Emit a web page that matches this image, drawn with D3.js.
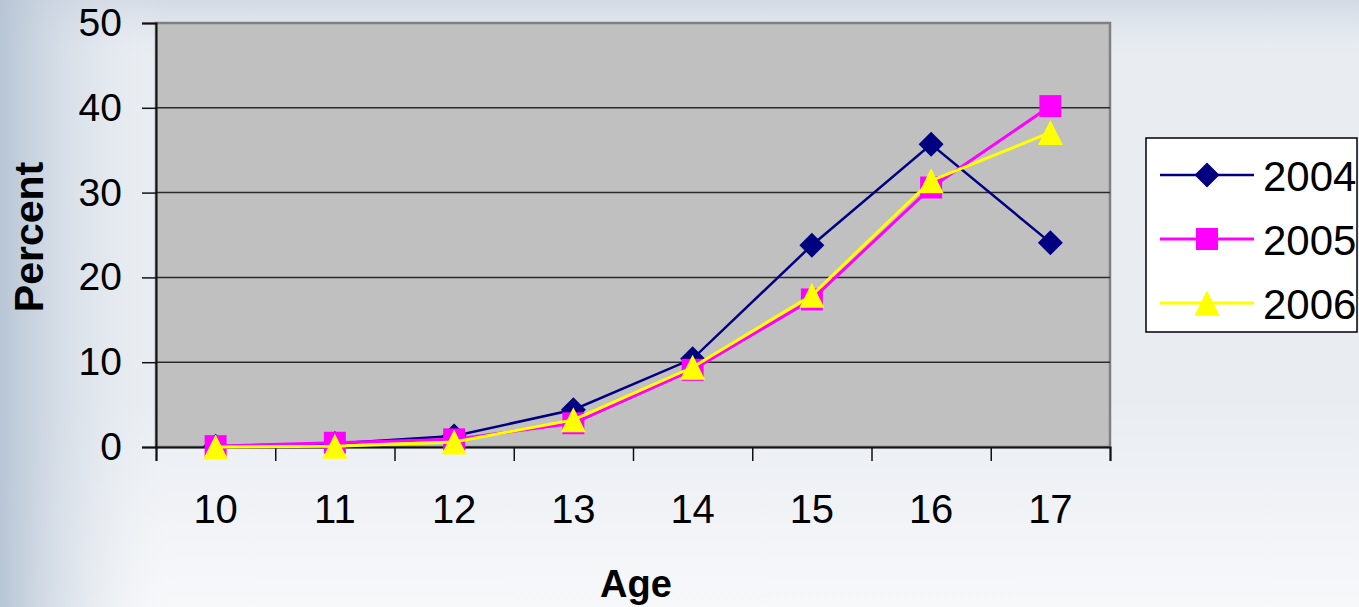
<!DOCTYPE html>
<html>
<head>
<meta charset="utf-8">
<script src="https://cdn.jsdelivr.net/npm/d3@7"></script>
<style>
  body { margin: 0; background: #eef1f5; }
  svg { display: block; font-family: "Liberation Sans", Arial, sans-serif; }
</style>
</head>
<body>
<svg width="1359" height="607"></svg>
<script>
const ages = ["10", "11", "12", "13", "14", "15", "16", "17"];
const years = ["2004", "2005", "2006"];
const v2004 = [0.1, 0.4, 1.3, 4.4, 10.4, 23.8, 35.7, 24.1];
const v2005 = [0.1, 0.5, 0.9, 2.8, 9.1, 17.4, 30.6, 40.2];
const v2006 = [0.0, 0.1, 0.6, 3.2, 9.4, 17.9, 31.4, 37.1];
const yTicks = [0, 10, 20, 30, 40, 50];

const series = [
  { name: years[0], values: v2004, color: "#000080", width: 2.5, shape: "diamond" },
  { name: years[1], values: v2005, color: "#ff00ff", width: 3, shape: "square" },
  { name: years[2], values: v2006, color: "#ffff00", width: 3, shape: "triangle" }
];

const svg = d3.select("svg");
const plotL = 156, plotR = 1110, plotT = 23, plotB = 447;

// background
const defs = svg.append("defs");
const gl = defs.append("linearGradient").attr("id", "gl").attr("x1", 0).attr("x2", 1).attr("y1", 0).attr("y2", 0);
gl.append("stop").attr("offset", 0).attr("stop-color", "#b7c5d5");
gl.append("stop").attr("offset", 1).attr("stop-color", "#eef1f5").attr("stop-opacity", 0);
const gt = defs.append("linearGradient").attr("id", "gt").attr("x1", 0).attr("x2", 0).attr("y1", 0).attr("y2", 1);
gt.append("stop").attr("offset", 0).attr("stop-color", "#d2d9e3");
gt.append("stop").attr("offset", 1).attr("stop-color", "#eef1f5").attr("stop-opacity", 0);
const gb = defs.append("linearGradient").attr("id", "gb").attr("x1", 0).attr("x2", 0).attr("y1", 0).attr("y2", 1);
gb.append("stop").attr("offset", 0).attr("stop-color", "#f7f8fa").attr("stop-opacity", 0);
gb.append("stop").attr("offset", 1).attr("stop-color", "#f7f8fa");
svg.append("rect").attr("width", 1359).attr("height", 607).attr("fill", "#e9edf2");
svg.append("rect").attr("y", 400).attr("width", 1359).attr("height", 207).attr("fill", "url(#gb)");
svg.append("rect").attr("width", 1359).attr("height", 70).attr("fill", "url(#gt)");
svg.append("rect").attr("width", 170).attr("height", 607).attr("fill", "url(#gl)");

const x = d3.scaleBand().domain(ages).range([plotL, plotR]);
const xb = d3.scaleLinear().domain([0, ages.length]).range([plotL, plotR]);
const y = d3.scaleLinear().domain([0, 50]).range([plotB, plotT]);

// plot area
svg.append("rect")
  .attr("x", plotL).attr("y", plotT).attr("width", plotR - plotL).attr("height", plotB - plotT)
  .attr("fill", "#c0c0c0").attr("stroke", "#808080").attr("stroke-width", 2.5);

// gridlines
svg.append("g").selectAll("line")
  .data(yTicks.slice(1, -1))
  .join("line")
  .attr("x1", plotL).attr("x2", plotR)
  .attr("y1", d => y(d)).attr("y2", d => y(d))
  .attr("stroke", "#2a2a2a").attr("stroke-width", 1.5);

// y axis
const yAxis = svg.append("g")
  .attr("transform", `translate(${plotL},0)`)
  .call(d3.axisLeft(y).tickValues(yTicks).tickSize(14).tickPadding(20));
yAxis.select(".domain").attr("stroke", "#111").attr("stroke-width", 2);
yAxis.selectAll(".tick line").attr("stroke", "#111").attr("stroke-width", 1.5);
yAxis.selectAll("text").attr("font-size", 39).attr("fill", "#000")
  .attr("font-family", "Liberation Sans, Arial, sans-serif");

// x axis (tick marks at category boundaries)
const xAxisB = svg.append("g")
  .attr("transform", `translate(0,${plotB})`)
  .call(d3.axisBottom(xb).ticks(ages.length).tickSize(14).tickFormat(""));
xAxisB.select(".domain").attr("stroke", "#111").attr("stroke-width", 2);
xAxisB.selectAll(".tick line").attr("stroke", "#111").attr("stroke-width", 1.5);

const xAxis = svg.append("g")
  .attr("transform", `translate(0,${plotB})`)
  .call(d3.axisBottom(x).tickSize(0).tickPadding(48));
xAxis.select(".domain").remove();
xAxis.selectAll("text").attr("font-size", 40).attr("fill", "#000")
  .attr("font-family", "Liberation Sans, Arial, sans-serif");

// axis titles
svg.append("text")
  .attr("x", 636).attr("y", 597)
  .attr("text-anchor", "middle")
  .attr("font-size", 38).attr("font-weight", "bold")
  .text("Age");
svg.append("text")
  .attr("transform", "translate(43,237) rotate(-90)")
  .attr("text-anchor", "middle")
  .attr("font-size", 41).attr("font-weight", "bold")
  .text("Percent");

function marker(g, shape, color, cx, cy) {
  if (shape === "diamond") {
    g.append("path").attr("d", `M${cx},${cy - 12.5}L${cx + 12.5},${cy}L${cx},${cy + 12.5}L${cx - 12.5},${cy}Z`)
      .attr("fill", color);
  } else if (shape === "square") {
    g.append("rect").attr("x", cx - 11).attr("y", cy - 11).attr("width", 22).attr("height", 22)
      .attr("fill", color);
  } else {
    g.append("path").attr("d", `M${cx},${cy - 12.5}L${cx + 12.5},${cy + 12.5}L${cx - 12.5},${cy + 12.5}Z`)
      .attr("fill", color);
  }
}

const line = d3.line()
  .x((d, i) => x(ages[i]) + x.bandwidth() / 2)
  .y(d => y(d));

series.forEach(s => {
  const g = svg.append("g");
  g.append("path")
    .datum(s.values)
    .attr("d", line)
    .attr("fill", "none")
    .attr("stroke", s.color)
    .attr("stroke-width", s.width);
  s.values.forEach((v, i) => marker(g, s.shape, s.color, x(ages[i]) + x.bandwidth() / 2, y(v)));
});

// legend
const lg = svg.append("g");
lg.append("rect").attr("x", 1146).attr("y", 138).attr("width", 211).attr("height", 194)
  .attr("fill", "#fff").attr("stroke", "#000").attr("stroke-width", 1.5);
const rowsY = [175, 239, 303];
series.forEach((s, i) => {
  const ry = rowsY[i];
  lg.append("line").attr("x1", 1160).attr("x2", 1254).attr("y1", ry).attr("y2", ry)
    .attr("stroke", s.color).attr("stroke-width", s.width);
  marker(lg, s.shape, s.color, 1207, ry);
  lg.append("text").attr("x", 1263).attr("y", ry + 16)
    .attr("font-size", 42).attr("fill", "#000")
    .text(s.name);
});
</script>
</body>
</html>
